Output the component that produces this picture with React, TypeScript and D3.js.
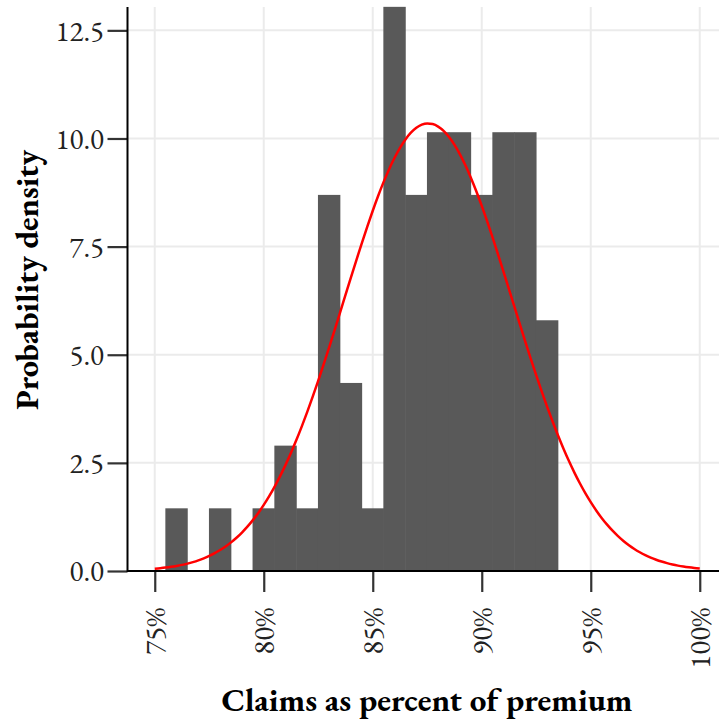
import React, { useEffect, useRef } from 'react';
import * as d3 from 'd3';

// histogram bins (claims as fraction of premium), 1% wide
const binStarts = [0.755, 0.775, 0.795, 0.805, 0.815, 0.825, 0.835, 0.845, 0.855, 0.865, 0.875, 0.885, 0.895, 0.905, 0.915, 0.925];
const binCounts = [1, 1, 1, 2, 1, 6, 3, 1, 9, 6, 7, 7, 6, 7, 7, 4];
const binWidth = 0.01;
const sampleSize = 69;

// fitted normal curve
const fitMean = 0.8754;
const fitSd = 0.03855;
const curveRange = [0.75, 1.0];

const xTicks = [0.75, 0.8, 0.85, 0.9, 0.95, 1.0];
const yTicks = [0, 2.5, 5, 7.5, 10, 12.5];

const App = () => {
    const ref = useRef<SVGSVGElement>(null);

    useEffect(() => {
        const width = 719;
        const height = 721;
        const left = 127.5;
        const top = 7;
        const bottom = 571;
        const font = "'EB Garamond', Garamond, 'Liberation Serif', 'DejaVu Serif', serif";

        const svg = d3.select(ref.current)
            .attr('width', width)
            .attr('height', height);
        svg.selectAll('*').remove();

        const xScale = d3.scaleLinear()
            .domain([0.7375, 1.0125])
            .range([left, left + 27.5 * 21.8]);
        const yScale = d3.scaleLinear()
            .domain([0, 13.04])
            .range([bottom, top]);

        // grid
        const grid = svg.append('g');
        grid.selectAll('line.v')
            .data(xTicks)
            .enter()
            .append('line')
            .attr('x1', d => xScale(d)).attr('x2', d => xScale(d))
            .attr('y1', top).attr('y2', bottom)
            .attr('stroke', '#ebebeb').attr('stroke-width', 2);
        grid.selectAll('line.h')
            .data(yTicks)
            .enter()
            .append('line')
            .attr('x1', left).attr('x2', width)
            .attr('y1', d => yScale(d)).attr('y2', d => yScale(d))
            .attr('stroke', '#ebebeb').attr('stroke-width', 2);

        // bars (slight overlap so neighbours don't show a seam)
        svg.append('g')
            .selectAll('rect')
            .data(binStarts)
            .enter()
            .append('rect')
            .attr('x', d => xScale(d) - 0.3)
            .attr('width', d => xScale(d + binWidth) - xScale(d) + 0.6)
            .attr('y', (d, i) => yScale(binCounts[i] / (sampleSize * binWidth)))
            .attr('height', (d, i) => bottom - yScale(binCounts[i] / (sampleSize * binWidth)))
            .attr('fill', '#595959');

        // normal density
        const pdf = (x: number) => Math.exp(-0.5 * ((x - fitMean) / fitSd) ** 2) / (fitSd * Math.sqrt(2 * Math.PI));
        const xs = d3.range(curveRange[0], curveRange[1] + 1e-9, 0.0025);
        const line = d3.line<number>()
            .x(d => xScale(d))
            .y(d => yScale(pdf(d)))
            .curve(d3.curveMonotoneX);
        svg.append('path')
            .datum(xs)
            .attr('d', line)
            .attr('fill', 'none')
            .attr('stroke', '#ff0000')
            .attr('stroke-width', 2.5);

        // axes
        const xAxis = d3.axisBottom(xScale)
            .tickValues(xTicks)
            .tickSize(21)
            .tickFormat(() => '');
        const gx = svg.append('g')
            .attr('transform', `translate(0,${bottom})`)
            .call(xAxis);
        gx.select('.domain').remove();
        gx.selectAll('.tick line').attr('stroke', '#333').attr('stroke-width', 2.2);

        const yAxis = d3.axisLeft(yScale)
            .tickValues(yTicks)
            .tickSize(20)
            .tickFormat(() => '');
        const gy = svg.append('g')
            .attr('transform', `translate(${left},0)`)
            .call(yAxis);
        gy.select('.domain').remove();
        gy.selectAll('.tick line').attr('stroke', '#333').attr('stroke-width', 2.2);

        svg.append('line')
            .attr('x1', left).attr('x2', width)
            .attr('y1', bottom).attr('y2', bottom)
            .attr('stroke', '#000').attr('stroke-width', 2);
        svg.append('line')
            .attr('x1', left).attr('x2', left)
            .attr('y1', top).attr('y2', bottom + 1)
            .attr('stroke', '#000').attr('stroke-width', 2);

        // tick labels
        svg.append('g')
            .selectAll('text')
            .data(yTicks)
            .enter()
            .append('text')
            .attr('x', 104)
            .attr('y', d => yScale(d))
            .attr('dy', '0.35em')
            .attr('text-anchor', 'end')
            .attr('font-family', font)
            .attr('font-size', 29)
            .attr('fill', '#222')
            .text(d => d3.format('.1f')(d));

        svg.append('g')
            .selectAll('text')
            .data(xTicks)
            .enter()
            .append('text')
            .attr('transform', d => `translate(${xScale(d)},608) rotate(-90)`)
            .attr('dy', '0.35em')
            .attr('text-anchor', 'end')
            .attr('font-family', font)
            .attr('font-size', 29)
            .attr('fill', '#222')
            .text(d => d3.format('.0%')(d));

        // titles
        svg.append('text')
            .attr('x', 427)
            .attr('y', 711)
            .attr('text-anchor', 'middle')
            .attr('font-family', font)
            .attr('font-weight', 'bold')
            .attr('font-size', 33)
            .text('Claims as percent of premium');

        svg.append('text')
            .attr('transform', 'translate(38,280) rotate(-90)')
            .attr('text-anchor', 'middle')
            .attr('font-family', font)
            .attr('font-weight', 'bold')
            .attr('font-size', 32.5)
            .text('Probability density');
    }, []);

    return <svg ref={ref} style={{ position: 'absolute', left: 0, top: 0, background: '#fff' }} />;
};

export default App;
